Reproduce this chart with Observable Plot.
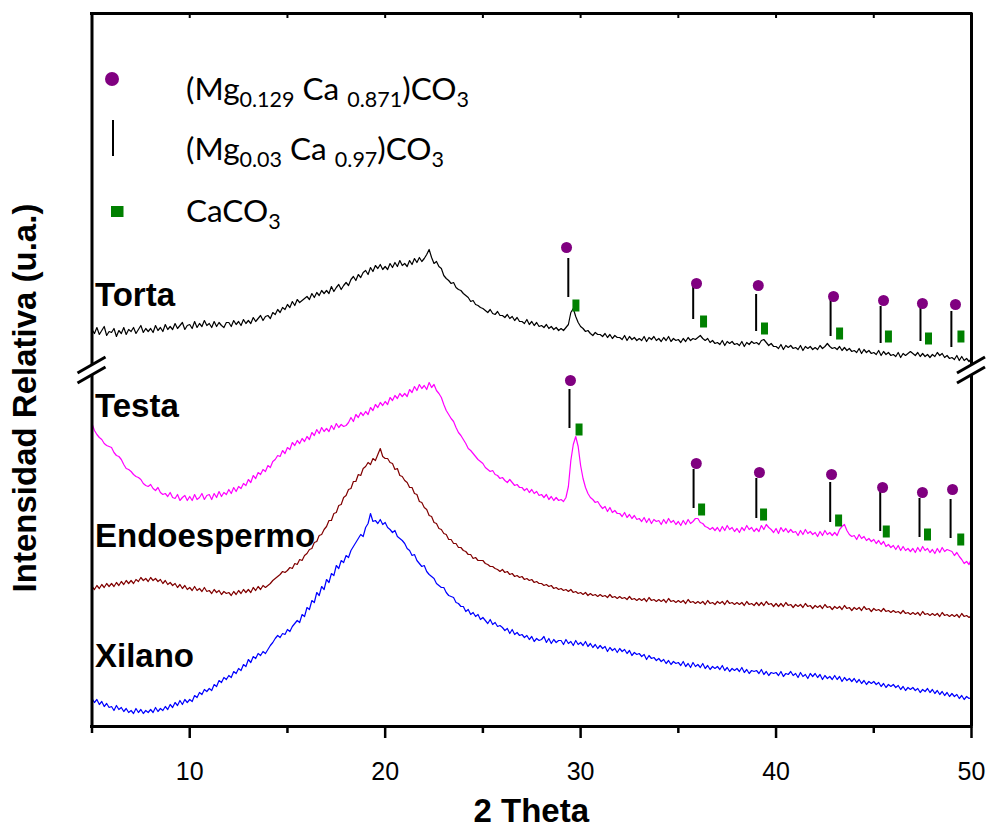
<!DOCTYPE html>
<html><head><meta charset="utf-8">
<script src="https://cdn.jsdelivr.net/npm/d3@7"></script>
<script src="https://cdn.jsdelivr.net/npm/@observablehq/plot@0.6"></script>
<style>
html,body{margin:0;padding:0;background:#fff;}
#chart{width:989px;height:830px;overflow:hidden;}
text{white-space:pre;}
</style></head><body><div id="chart"></div>
<script>
// ---------- DATA ----------
// 2θ grid: 5° to 50° in 0.125° steps (361 samples)
const twoTheta = d3.range(361).map(i => 5 + i * 0.125);

const sampleNames = ["Torta", "Testa", "Endoespermo", "Xilano"];
const sampleColors = ["#000000", "#ff00ff", "#800000", "#0000ff"];
const labelLevel = [431, 320, 190, 70];   // vertical level of each sample label (u.a.)
const breakLevel = 356;                   // axis break (u.a.)

const torta = [
397,393,399,392,396,400,391,395, 394,398,390,396,393,399,392,397, 395,399,393,397,401,394,398,395,
398,394,401,396,399,395,402,397, 400,397,403,398,401,404,397,401, 402,398,405,399,403,400,406,401,
403,399,405,400,404,401,399,404, 404,400,406,402,405,401,407,403, 406,403,409,405,408,411,406,410,
411,408,414,412,417,414,419,417, 422,419,425,421,427,424,426,428, 430,427,433,429,434,431,436,433,
436,433,440,435,439,442,437,441, 444,441,447,450,446,452,449,454, 456,452,459,455,461,458,462,457,
460,457,463,459,464,460,466,461, 463,460,466,462,468,464,469,465, 468,472,477,469,463,465,460,458,
451,448,446,443,444,439,437,436, 433,431,429,425,426,422,421,419, 418,416,414,417,413,412,415,411,
411,409,412,408,410,406,409,405, 405,403,407,402,405,401,404,400, 401,399,402,398,400,397,399,396,
398,396,399,402,414,418,410,404, 400,398,395,396,393,391,394,392, 392,390,393,389,392,388,391,389,
389,387,391,386,390,387,389,386, 388,386,390,385,389,387,390,386, 388,385,389,386,390,385,388,386,
387,384,388,385,389,386,388,387, 389,391,388,386,388,384,386,383, 384,382,386,381,385,383,385,382,
383,381,385,380,384,382,385,383, 384,382,386,387,384,381,383,380, 380,378,382,377,381,379,381,378,
379,377,381,376,380,378,380,377, 379,377,381,378,380,383,380,378, 379,377,380,376,379,376,378,375,
376,374,378,373,377,374,376,373, 374,372,376,371,375,372,374,371, 372,370,374,369,373,371,373,375,
373,371,374,370,373,370,372,369, 372,370,374,371,373,369,371,368, 369,367,371,366,370,366,368,365,
368];

const testa = [
303,296,292,289,287,283,281,280, 279,274,271,270,267,262,258,257, 255,252,250,249,247,243,241,240,
242,238,236,239,234,232,233,230, 234,229,228,232,226,229,231,226, 230,226,232,227,229,233,227,231,
232,227,233,229,235,230,234,232, 237,233,239,235,240,238,243,241, 247,244,251,248,254,252,257,255,
261,259,265,267,271,270,276,273, 279,277,284,281,286,283,288,285, 290,287,294,291,297,293,299,295,
298,295,301,297,303,299,302,300, 301,304,309,305,312,309,314,311, 315,312,319,316,322,319,324,321,
325,322,329,326,331,328,333,330, 333,330,337,334,340,336,342,338, 341,337,344,339,342,336,333,329,
322,316,312,308,305,299,294,291, 287,283,278,276,273,270,267,265, 263,259,257,255,256,252,251,248,
249,246,244,247,244,241,242,239, 239,236,238,234,237,233,235,231, 232,229,232,227,230,226,229,226,
227,225,229,240,266,282,290,280, 261,248,239,233,229,227,224,225, 221,218,220,215,219,214,216,213,
213,210,214,209,212,208,211,207, 208,205,209,204,208,203,207,205, 206,202,207,203,208,204,206,202,
205,201,206,202,207,203,205,208, 208,204,203,200,199,197,199,196, 199,195,200,196,201,197,199,195,
198,194,199,196,201,197,199,195, 198,195,201,197,202,199,197,194, 198,193,199,195,198,194,197,194,
195,191,196,192,197,193,195,192, 194,190,195,191,196,192,194,191, 194,191,197,200,202,196,192,190,
191,187,192,188,190,186,188,185, 187,183,186,182,185,180,182,179, 181,177,181,176,180,176,178,175,
178,174,179,175,180,176,178,174, 177,173,178,174,179,175,177,176, 175,171,174,170,167,163,165,162,
168];

const endoespermo = [
140,137,141,138,142,139,143,140, 143,140,144,141,145,142,146,143, 146,143,147,145,149,146,148,145,
149,146,148,145,147,143,146,142, 144,141,143,139,142,138,141,137, 139,136,140,136,138,135,139,135,
136,133,137,134,136,132,135,133, 134,131,135,132,136,133,137,134, 137,134,139,136,140,137,141,139,
141,143,146,148,150,152,155,154, 156,159,158,163,162,167,166,171, 173,177,178,184,185,191,192,197,
200,206,206,213,214,221,222,229, 231,237,238,245,245,252,251,258, 260,264,262,268,266,272,278,270,
268,268,264,263,257,258,251,250, 246,244,239,239,233,232,225,224, 219,217,211,210,204,203,198,197,
193,192,187,187,183,183,179,179, 176,175,172,172,168,169,166,166, 166,163,162,160,160,158,157,155,
157,154,155,152,153,150,151,149, 150,147,148,146,147,144,145,143, 143,141,142,140,141,138,139,137,
138,136,137,135,137,134,135,133, 134,132,134,131,133,131,132,130, 132,130,131,129,132,129,130,128,
130,128,129,127,130,127,128,126, 128,126,128,125,129,126,127,125, 127,125,127,124,128,125,126,124,
126,124,126,123,127,124,125,123, 125,123,125,122,126,123,124,122, 125,123,125,122,126,123,124,122,
124,122,124,121,125,122,123,121, 124,121,124,121,125,122,123,120, 123,120,123,120,124,121,122,119,
122,120,122,119,123,120,121,118, 121,119,121,118,122,119,120,117, 120,118,120,117,121,118,119,116,
119,117,119,116,120,117,118,115, 118,116,117,115,118,115,116,114, 116,114,115,113,116,113,114,112,
114,112,114,111,115,112,113,111, 113,111,113,110,114,111,112,110, 112,110,112,109,113,110,111,109,
111];

const xilano = [
28,24,27,22,25,20,23,19, 20,16,21,17,19,15,18,14, 16,13,18,14,17,13,16,14,
17,14,19,15,18,16,20,17, 22,19,24,21,26,22,27,24, 27,25,31,29,34,32,37,35,
38,36,42,40,46,44,49,47, 51,49,55,53,58,56,62,60, 67,64,70,68,73,71,75,73,
77,81,84,88,91,89,93,92, 97,95,100,103,106,104,112,110, 119,117,126,124,134,131,140,137,
147,144,153,151,161,158,166,164, 171,169,176,180,184,188,192,190, 199,203,213,205,206,203,207,202,
204,199,197,194,196,190,188,186, 183,178,176,171,172,166,163,160, 161,155,152,150,148,143,141,139,
139,134,131,130,129,124,123,120, 120,115,117,112,114,110,112,107, 109,106,103,107,102,104,100,101,
99,96,98,93,97,92,94,91, 92,89,91,87,90,85,88,86, 87,90,84,88,83,87,84,86,
86,82,87,83,85,81,86,82, 84,81,85,80,83,79,82,78, 81,78,80,75,79,76,78,74,
78,75,77,73,76,71,74,72, 73,70,72,67,71,68,69,66, 68,65,67,63,66,62,65,63,
64,61,65,60,63,59,64,60, 62,59,63,58,61,57,60,58, 60,57,61,56,59,55,58,56,
58,55,59,54,57,53,56,55, 56,53,57,52,55,51,54,53, 54,51,55,50,53,52,55,51,
53,49,54,50,52,48,53,50, 53,49,52,47,51,48,50,47, 51,47,50,45,49,46,48,45,
48,44,47,43,46,42,45,43, 45,42,44,40,43,39,42,40, 42,39,41,37,40,36,39,37,
39,36,38,34,37,35,38,34, 37,33,36,32,35,31,34,30, 33,30,32,28,31,27,30,28,
29];

// Phase markers — Torta
const tortaMg129Theta = [29.28, 35.93, 39.09, 42.94, 45.50, 47.49, 49.18];
const tortaMg129Level = [479, 443, 441, 430, 426, 423, 422];
const tortaMg003Theta = [29.37, 35.76, 38.98, 42.79, 45.35, 47.39, 48.97];
const tortaMg003Top   = [468, 443, 432, 427, 420, 422, 415];
const tortaMg003Bot   = [429, 407, 395, 390, 383, 385, 379];
const tortaCaCO3Theta = [29.76, 36.29, 39.41, 43.25, 45.75, 47.80, 49.46];
const tortaCaCO3Level = [421, 405, 398, 393, 390, 388, 390];
// Phase markers — Testa
const testaMg129Theta = [29.48, 35.92, 39.15, 42.84, 45.45, 47.49, 49.03];
const testaMg129Level = [346, 263, 254, 252, 239, 234, 237];
const testaMg003Theta = [29.43, 35.78, 38.99, 42.77, 45.33, 47.34, 48.93];
const testaMg003Top   = [337, 257, 248, 244, 235, 228, 227];
const testaMg003Bot   = [298, 218, 208, 204, 195, 189, 188];
const testaCaCO3Theta = [29.92, 36.19, 39.36, 43.20, 45.64, 47.75, 49.45];
const testaCaCO3Level = [297, 217, 212, 206, 195, 192, 187];

const majorTicks = [10, 20, 30, 40, 50];
const minorTicks = [5, 15, 25, 35, 45];

// ---------- BUILD ----------
const W = 989, H = 830;
const FONT = "'Liberation Sans', Arial, Helvetica, sans-serif";

const curves = [];
[torta, testa, endoespermo, xilano].forEach((vals, s) =>
  vals.forEach((v, i) => curves.push({theta: twoTheta[i], I: v, sample: sampleNames[s]})));

const mg129 = [], mg003 = [], caco3 = [];
tortaMg129Theta.forEach((t, i) => mg129.push({theta: t, I: tortaMg129Level[i]}));
testaMg129Theta.forEach((t, i) => mg129.push({theta: t, I: testaMg129Level[i]}));
tortaMg003Theta.forEach((t, i) => mg003.push({theta: t, y1: tortaMg003Bot[i], y2: tortaMg003Top[i]}));
testaMg003Theta.forEach((t, i) => mg003.push({theta: t, y1: testaMg003Bot[i], y2: testaMg003Top[i]}));
tortaCaCO3Theta.forEach((t, i) => caco3.push({theta: t, I: tortaCaCO3Level[i]}));
testaCaCO3Theta.forEach((t, i) => caco3.push({theta: t, I: testaCaCO3Level[i]}));

const barSymbol = {draw(ctx) { ctx.moveTo(-3.5, -6); ctx.lineTo(3.5, -6); ctx.lineTo(3.5, 6); ctx.lineTo(-3.5, 6); ctx.closePath(); }};

const gap = 5;
const plot = Plot.plot({
  width: W, height: H,
  marginLeft: 91.5, marginRight: 18, marginTop: 13, marginBottom: 104,
  style: {fontFamily: FONT, background: "#fff", color: "#000", overflow: "visible"},
  x: {domain: [5, 50], label: null},
  y: {domain: [0, 713], axis: null},
  color: {domain: sampleNames, range: sampleColors},
  marks: [
    Plot.line(curves, {x: "theta", y: "I", z: "sample", stroke: "sample", strokeWidth: 1.2}),
    Plot.ruleX(mg003, {x: "theta", y1: "y1", y2: "y2", stroke: "#000", strokeWidth: 2}),
    Plot.dot(mg129, {x: "theta", y: "I", r: 5.5, fill: "#800080", stroke: "none"}),
    Plot.dot(caco3, {x: "theta", y: "I", symbol: barSymbol, fill: "#008000", stroke: "none"}),
    Plot.text(sampleNames, {x: 5, y: (d, i) => labelLevel[i], text: d => d, textAnchor: "start",
      dx: 3, fontSize: 33, fontWeight: "bold", lineAnchor: "middle", fill: "#000"}),
    // frame
    Plot.ruleY([713], {strokeWidth: 3, strokeLinecap: "square"}),
    Plot.ruleY([0], {strokeWidth: 3, strokeLinecap: "square"}),
    Plot.ruleX([5, 50], {y1: 0, y2: breakLevel - gap, strokeWidth: 3}),
    Plot.ruleX([5, 50], {y1: breakLevel + gap, y2: 713, strokeWidth: 3}),
    // axes
    Plot.axisX({ticks: majorTicks, tickSize: 12, tickPadding: 24, fontSize: 25, strokeWidth: 2.5, label: null, tickFormat: d => String(d)}),
    Plot.axisX({ticks: minorTicks, tickSize: 7, strokeWidth: 2.5, label: null, tickFormat: () => ""}),
    Plot.axisX({anchor: "top", ticks: majorTicks.concat(minorTicks), tickSize: -4, strokeWidth: 2, label: null, tickFormat: () => ""})
  ]
});

document.getElementById("chart").appendChild(plot);

// ---------- decorations ----------
const svg = d3.select(plot);
const sx = plot.scale("x").apply, sy = plot.scale("y").apply;

// axis break marks
const yb = sy(breakLevel);
[sx(5), sx(50)].forEach(x0 => {
  [-gap, gap].forEach(off => {
    svg.append("line").attr("x1", x0 - 14).attr("y1", yb + off + 8)
      .attr("x2", x0 + 14).attr("y2", yb + off - 8)
      .attr("stroke", "#000").attr("stroke-width", 3);
  });
});

// axis titles
svg.append("text").attr("transform", `translate(36,398) rotate(-90)`)
  .attr("text-anchor", "middle").attr("font-family", FONT).attr("font-weight", "bold")
  .attr("font-size", 33).attr("fill", "#000").text("Intensidad Relativa (u.a.)");
svg.append("text").attr("x", (sx(5) + sx(50)) / 2).attr("y", 822)
  .attr("text-anchor", "middle").attr("font-family", FONT).attr("font-weight", "bold")
  .attr("font-size", 33).attr("fill", "#000").text("2 Theta");

// legend
const LF = "Lato, 'Open Sans', sans-serif";
const lg = svg.append("g");
lg.append("circle").attr("cx", 112).attr("cy", 79).attr("r", 7).attr("fill", "#800080");
lg.append("line").attr("x1", 113).attr("x2", 113).attr("y1", 120).attr("y2", 156).attr("stroke", "#000").attr("stroke-width", 2);
lg.append("rect").attr("x", 111).attr("y", 206).attr("width", 12.5).attr("height", 11).attr("fill", "#008000");

function formula(y, parts) {
  const t = lg.append("text").attr("x", 186).attr("y", y).attr("font-family", LF)
    .attr("text-anchor", "start").attr("font-size", 31.5).attr("fill", "#000");
  let down = false;
  parts.forEach(([s, sub]) => {
    const ts = t.append("tspan").text(s);
    if (sub && !down) { ts.attr("font-size", 21.5).attr("dy", 7); down = true; }
    else if (sub) { ts.attr("font-size", 21.5); }
    else if (down) { ts.attr("dy", -7); down = false; }
  });
}
formula(100, [["(Mg"], ["0.129", 1], [" Ca "], ["0.871", 1], [")CO"], ["3", 1]]);
formula(160, [["(Mg"], ["0.03", 1], [" Ca "], ["0.97", 1], [")CO"], ["3", 1]]);
formula(222, [["CaCO"], ["3", 1]]);
</script></body></html>
